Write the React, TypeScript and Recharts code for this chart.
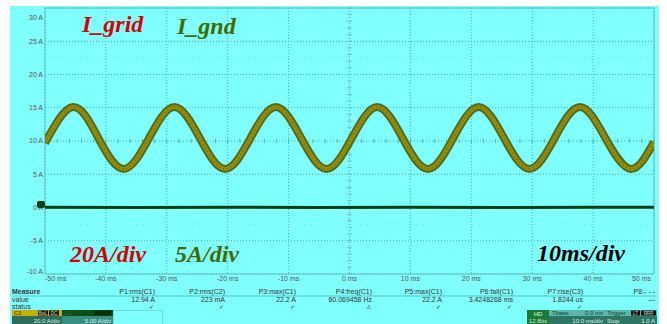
import { LineChart, Line, XAxis, YAxis, CartesianGrid, ReferenceLine } from 'recharts'

// time axis (ms) and amplitude axis (A)
const timeTicks = [-50, -40, -30, -20, -10, 0, 10, 20, 30, 40, 50]
const ampTicks = [-10, -5, 0, 5, 10, 15, 20, 25, 30]

// C1 (I_grid) read at peaks, mid crossings and troughs
const gridTimes = [-50, -45.4, -41.24, -37.07, -32.91, -28.75, -24.59, -20.42, -16.26, -12.1, -7.94, -3.77, 0.39, 4.55, 8.71, 12.88, 17.04, 21.2, 25.36, 29.53, 33.69, 37.85, 42.01, 46.18, 50]
const gridAmps = [9.7, 15.1, 10.45, 5.8, 10.45, 15.1, 10.45, 5.8, 10.45, 15.1, 10.45, 5.8, 10.45, 15.1, 10.45, 5.8, 10.45, 15.1, 10.45, 5.8, 10.45, 15.1, 10.45, 5.8, 9.85]

// C2 (I_gnd) stays near 0 A
const gndTimes = [-50, -35, -20, -5, 10, 25, 40, 50]
const gndAmps = [0.05, 0.0, 0.05, 0.0, 0.05, 0.0, 0.05, 0.05]

const measureNames = ['P1:rms(C1)', 'P2:rms(C2)', 'P3:max(C1)', 'P4:freq(C1)', 'P5:max(C1)', 'P6:fall(C1)', 'P7:rise(C3)', 'P8:- - -']
const measureValues = ['12.94 A', '223 mA', '22.2 A', '60.069458 Hz', '22.2 A', '3.4248268 ms', '1.8244 us', '---']
const measureStatus = ['✓', '✓', '✓', '⚠', '✓', '✓', '✓', '']
const measureRight = [155, 225, 296, 372, 442, 513, 583, 655]

const gridData = gridTimes.map((t, i) => ({ t, v: gridAmps[i] }))
const gndData = gndTimes.map((t, i) => ({ t, v: gndAmps[i] }))

const minorTimes = Array.from({ length: 51 }, (_, i) => -50 + i * 2)
const minorAmps = Array.from({ length: 41 }, (_, i) => -10 + i)

const ui = 'Liberation Sans, Arial, sans-serif'
const serif = 'Liberation Serif, Times New Roman, serif'

const TimeTick = ({ x, y, payload, index }: any) => {
  const last = timeTicks.length - 1
  const anchor = index === 0 ? 'start' : index === last ? 'end' : 'middle'
  return (
    <text x={x} y={y} dy="0.71em" textAnchor={anchor} fontSize={7} fill="#555" fontFamily={ui}>
      {`${payload.value} ms`}
    </text>
  )
}

const AmpTick = ({ x, y, payload, index }: any) => {
  const last = ampTicks.length - 1
  const shift = index === 0 ? -2 : index === last ? 3 : 0
  return (
    <text x={x} y={y + shift} dy="0.355em" textAnchor="end" fontSize={7} fill="#555" fontFamily={ui}>
      {`${payload.value} A`}
    </text>
  )
}

export default function App() {
  return (
    <div style={{ position: 'absolute', left: 0, top: 0, width: 667, height: 324, background: '#fff', overflow: 'hidden' }}>
      <div style={{ position: 'absolute', left: 10, top: 6, width: 649, height: 318, background: '#80ffff' }} />
      <div style={{ position: 'absolute', left: 10, top: 6 }}>
        <LineChart width={649} height={280} margin={{ top: 2, right: 5, left: 0, bottom: 0 }}>
          <CartesianGrid stroke="#4fb3b3" strokeDasharray="1 2" />
          <XAxis
            type="number" dataKey="t" domain={[-50, 50]} ticks={timeTicks}
            tick={<TimeTick />}
            axisLine={false} tickLine={false} tickSize={0} tickMargin={2} height={12}
            allowDataOverflow
          />
          <YAxis
            type="number" dataKey="v" domain={[-10, 30]} ticks={ampTicks}
            tick={<AmpTick />}
            axisLine={false} tickLine={false} tickSize={0} tickMargin={2} width={35}
            allowDataOverflow
          />
          <ReferenceLine x={-50} stroke="#5cc0c0" />
          <ReferenceLine x={50} stroke="#5cc0c0" />
          <ReferenceLine y={30} stroke="#5cc0c0" />
          <ReferenceLine y={-10} stroke="#5cc0c0" />
          <ReferenceLine y={22.5} stroke="#8fd0d0" strokeDasharray="1 6" />
          <ReferenceLine y={-2.5} stroke="#8fd0d0" strokeDasharray="1 6" />
          {minorTimes.map(t => (
            <ReferenceLine key={'mt' + t} segment={[{ x: t, y: 9.7 }, { x: t, y: 10.3 }]} stroke="#4fb3b3" />
          ))}
          {minorAmps.map(a => (
            <ReferenceLine key={'ma' + a} segment={[{ x: -0.4, y: a }, { x: 0.4, y: a }]} stroke="#6cc4c4" />
          ))}
          <Line data={gndData} dataKey="v" type="linear" stroke="#0c3d12" strokeWidth={3} dot={false} isAnimationActive={false} />
          <Line data={gridData} dataKey="v" type="natural" stroke="#4e6d1c" strokeWidth={8} dot={false} isAnimationActive={false} />
          <Line data={gridData} dataKey="v" type="natural" stroke="#9a8a0c" strokeWidth={4} dot={false} isAnimationActive={false} />
          <Line data={gridData} dataKey="v" type="natural" stroke="#6a6a10" strokeWidth={1.5} strokeDasharray="1 3" dot={false} isAnimationActive={false} />
        </LineChart>
      </div>

      <svg width={667} height={324} style={{ position: 'absolute', left: 0, top: 0, pointerEvents: 'none' }}>
        {/* C2 ground marker */}
        <rect x={37} y={201} width={8} height={7} rx={2} fill="#0c3d12" />

        <g fontFamily={serif} fontWeight="bold" fontStyle="italic" fontSize={24}>
          <text x={82} y={32} fill="#d60000">I_grid</text>
          <text x={177} y={34} fill="#3f6b00">I_gnd</text>
          <text x={70} y={262} fill="#d60000">20A/div</text>
          <text x={175} y={262} fill="#3f6b00">5A/div</text>
          <text x={537} y={261} fill="#000">10ms/div</text>
        </g>

        {/* measure table */}
        <g fontFamily={ui} fontSize={7} fill="#333">
          <text x={12} y={294} fontWeight="bold">Measure</text>
          <text x={12} y={301.5}>value</text>
          <text x={12} y={308.5}>status</text>
          {measureNames.map((n, i) => (
            <text key={n} x={measureRight[i]} y={294} textAnchor="end">{n}</text>
          ))}
          {measureValues.map((v, i) => (
            <text key={'v' + i} x={measureRight[i]} y={301.5} textAnchor="end">{v}</text>
          ))}
          {measureStatus.map((s, i) => (
            <text key={'s' + i} x={measureRight[i] - 4} y={308.5} textAnchor="middle" fontSize={6} fill="#1f3f1f">{s}</text>
          ))}
        </g>
        <line x1={12} x2={657} y1={296} y2={296} stroke="#45b5b5" strokeWidth={0.8} />

        {/* channel boxes */}
        <g fontFamily={ui} fontSize={6}>
          <rect x={12} y={310} width={50} height={6} fill="#c4b000" />
          <text x={14} y={315.3} fill="#333">C1</text>
          <rect x={38} y={310.5} width={10} height={5} fill="#111" />
          <text x={43} y={314.6} fill="#ddd" fontSize={4.5} textAnchor="middle">BwL</text>
          <rect x={49} y={310.5} width={10} height={5} fill="#111" />
          <text x={54} y={314.6} fill="#ddd" fontSize={4.5} textAnchor="middle">DC</text>
          <rect x={12} y={316} width={50} height={8} fill="#2e6c5c" />
          <text x={60} y={322.5} fill="#d8f0e8" textAnchor="end">20.0 A/div</text>

          <rect x={62} y={310} width={51} height={6} fill="#0e4d14" />
          <text x={64} y={315.3} fill="#2a7a2a">C2</text>
          <rect x={94} y={310.5} width={17} height={5} fill="#0a300c" />
          <rect x={62} y={316} width={51} height={8} fill="#3a8f84" />
          <text x={111} y={322.5} fill="#d8f0e8" textAnchor="end">5.00 A/div</text>

          <rect x={113.5} y={310.5} width={49} height={14} fill="none" stroke="#5a9a9a" strokeWidth={0.7} strokeDasharray="1 1" />

          <rect x={527} y={310} width={22} height={14} fill="#1b7a38" />
          <text x={538} y={315.5} fill="#e0f5e0" textAnchor="middle">HD</text>
          <text x={538} y={323} fill="#cfe8cf" textAnchor="middle">12 Bits</text>

          <rect x={549} y={310} width={56} height={6} fill="#5ab8a8" />
          <text x={552} y={315.3} fill="#1f3f3a">Tbase</text>
          <text x={603} y={315.3} fill="#1f3f3a" textAnchor="end">0.0 ms</text>
          <rect x={549} y={316} width={56} height={8} fill="#2f7565" />
          <text x={603} y={322.5} fill="#d8f0e8" textAnchor="end">10.0 ms/div</text>

          <rect x={605} y={310} width={52} height={6} fill="#5ab8a8" />
          <text x={607} y={315.3} fill="#1f3f3a">Trigger</text>
          <rect x={631} y={310.5} width={9} height={5} fill="#111" />
          <text x={635.5} y={314.6} fill="#ddd" fontSize={4.5} textAnchor="middle">LT</text>
          <rect x={641} y={310.5} width={15} height={5} fill="#111" />
          <text x={648.5} y={314.6} fill="#ddd" fontSize={4.5} textAnchor="middle">RRR</text>
          <rect x={605} y={316} width={52} height={8} fill="#2f7565" />
          <text x={607} y={322.5} fill="#d8f0e8">Stop</text>
          <text x={655} y={322.5} fill="#d8f0e8" textAnchor="end">1.0 A</text>
        </g>
      </svg>
    </div>
  )
}
